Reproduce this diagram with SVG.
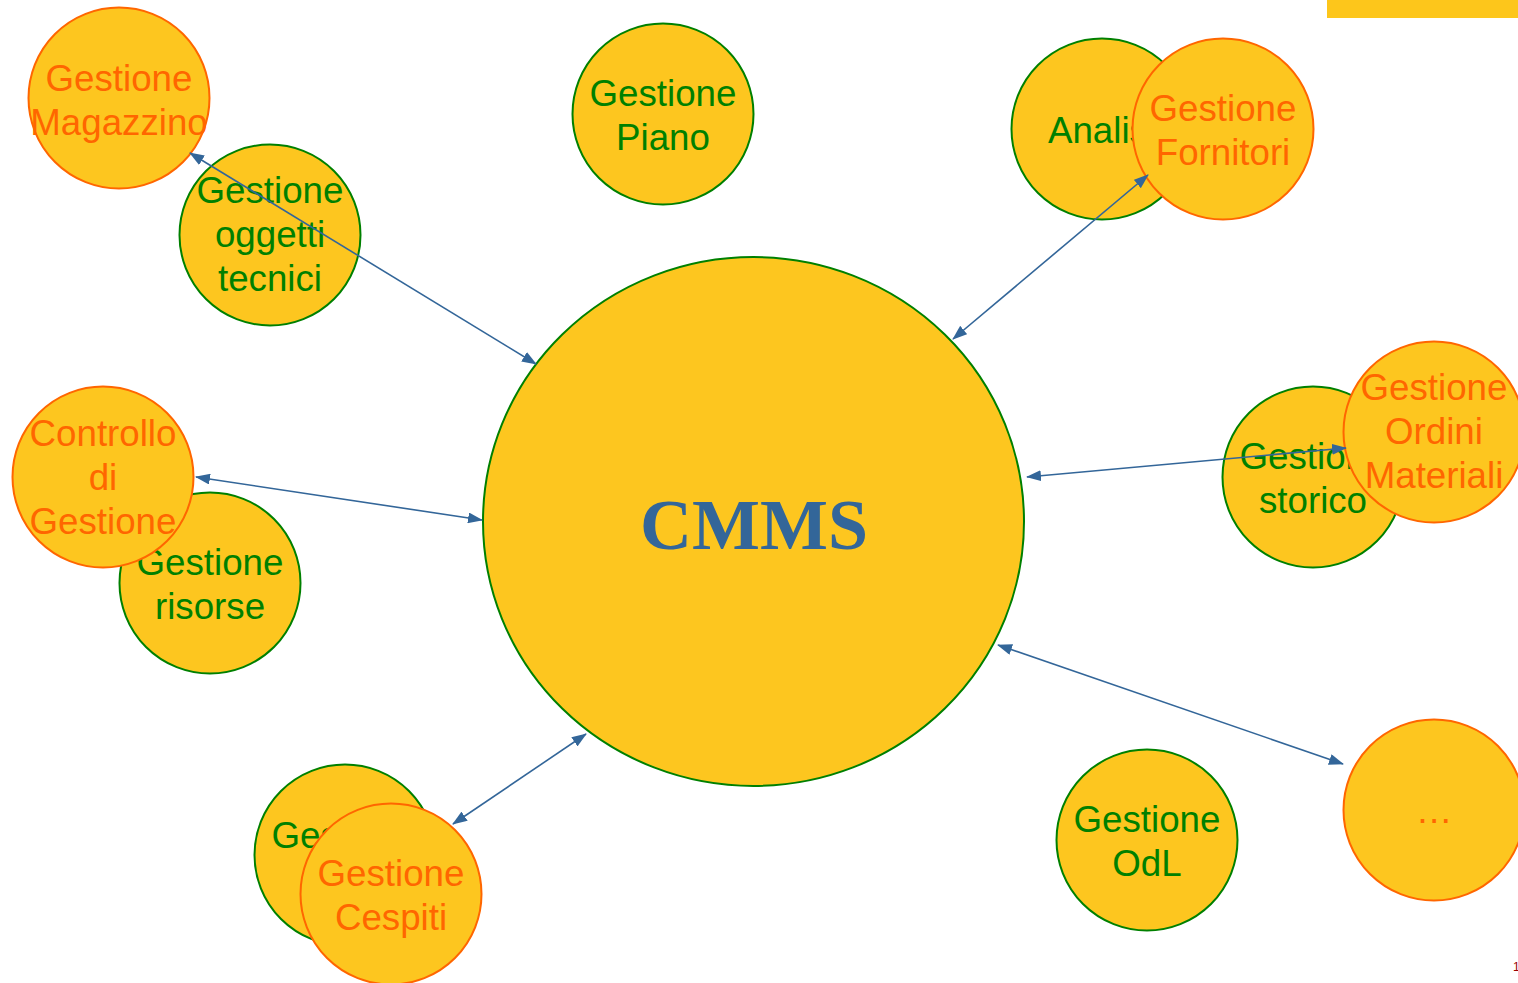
<svg xmlns="http://www.w3.org/2000/svg" width="1518" height="983" viewBox="0 0 1518 983">
<style>
.n{fill:#fdc61f;stroke-width:2}
.g{stroke:#008000}
.o{stroke:#ff6600}
.t{font-family:"Liberation Sans",Arial,sans-serif;font-size:36.7px;text-anchor:middle}
.tg{fill:#008000}
.to{fill:#ff6600}
.c{fill:none;stroke:#336699;stroke-width:1.6}
</style>
<defs>
<marker id="ah" viewBox="0 0 15 11" refX="14" refY="5.5" markerWidth="15" markerHeight="11" markerUnits="userSpaceOnUse" orient="auto-start-reverse">
<path d="M0,0 L15,5.5 L0,11 Z" fill="#336699"/>
</marker>
</defs>
<rect x="1327" y="0" width="191" height="18" fill="#fdc61b"/>
<g id="cmms">
<ellipse class="n g" cx="753.5" cy="521.5" rx="270.5" ry="264.5"/>
<text x="754" y="549" font-family="Liberation Serif,Times New Roman,serif" font-weight="bold" font-size="72" fill="#336699" text-anchor="middle">CMMS</text>
</g>
<g id="magazzino">
<circle class="n o" cx="119" cy="98" r="90.5"/>
<text class="t to" x="119" y="91">Gestione<tspan x="119" dy="44">Magazzino</tspan></text>
</g>
<g id="oggetti">
<circle class="n g" cx="270" cy="235" r="90.5"/>
<text class="t tg" x="270" y="203">Gestione<tspan x="270" dy="44">oggetti</tspan><tspan x="270" dy="44">tecnici</tspan></text>
</g>
<g id="piano">
<circle class="n g" cx="663" cy="114" r="90.5"/>
<text class="t tg" x="663" y="106">Gestione<tspan x="663" dy="44">Piano</tspan></text>
</g>
<g id="analisi">
<circle class="n g" cx="1102" cy="129" r="90.5"/>
<text class="t tg" x="1102" y="143">Analisi</text>
</g>
<g id="fornitori">
<circle class="n o" cx="1223" cy="129" r="90.5"/>
<text class="t to" x="1223" y="121">Gestione<tspan x="1223" dy="44">Fornitori</tspan></text>
</g>
<g id="risorse">
<circle class="n g" cx="210" cy="583" r="90.5"/>
<text class="t tg" x="210" y="575">Gestione<tspan x="210" dy="44">risorse</tspan></text>
</g>
<g id="controllo">
<circle class="n o" cx="103" cy="477" r="90.5"/>
<text class="t to" x="103" y="446">Controllo<tspan x="103" dy="44">di</tspan><tspan x="103" dy="44">Gestione</tspan></text>
</g>
<g id="storico">
<circle class="n g" cx="1313" cy="477" r="90.5"/>
<text class="t tg" x="1313" y="469">Gestione<tspan x="1313" dy="44">storico</tspan></text>
</g>
<g id="ordini">
<circle class="n o" cx="1434" cy="432" r="90.5"/>
<text class="t to" x="1434" y="400">Gestione<tspan x="1434" dy="44">Ordini</tspan><tspan x="1434" dy="44">Materiali</tspan></text>
</g>
<g id="gestione-sx">
<circle class="n g" cx="345" cy="855" r="90.5"/>
<text class="t tg" x="345" y="848">Gestione</text>
</g>
<g id="cespiti">
<circle class="n o" cx="391" cy="894" r="90.5"/>
<text class="t to" x="391" y="886">Gestione<tspan x="391" dy="44">Cespiti</tspan></text>
</g>
<g id="odl">
<circle class="n g" cx="1147" cy="840" r="90.5"/>
<text class="t tg" x="1147" y="832">Gestione<tspan x="1147" dy="44">OdL</tspan></text>
</g>
<g id="altro">
<circle class="n o" cx="1434" cy="810" r="90.5"/>
<text class="t to" x="1434" y="823">…</text>
</g>
<g id="connectors">
<line class="c" x1="190" y1="153" x2="536" y2="364" marker-start="url(#ah)" marker-end="url(#ah)"/>
<line class="c" x1="196" y1="477" x2="482" y2="520" marker-start="url(#ah)" marker-end="url(#ah)"/>
<line class="c" x1="1148" y1="175" x2="953" y2="339" marker-start="url(#ah)" marker-end="url(#ah)"/>
<line class="c" x1="1027" y1="477" x2="1346" y2="448" marker-start="url(#ah)" marker-end="url(#ah)"/>
<line class="c" x1="586" y1="734" x2="453" y2="824" marker-start="url(#ah)" marker-end="url(#ah)"/>
<line class="c" x1="998" y1="645" x2="1343" y2="764" marker-start="url(#ah)" marker-end="url(#ah)"/>
</g>
<text x="1513" y="971" font-family="Liberation Sans,Arial,sans-serif" font-size="12" fill="#990000">1</text>
</svg>
